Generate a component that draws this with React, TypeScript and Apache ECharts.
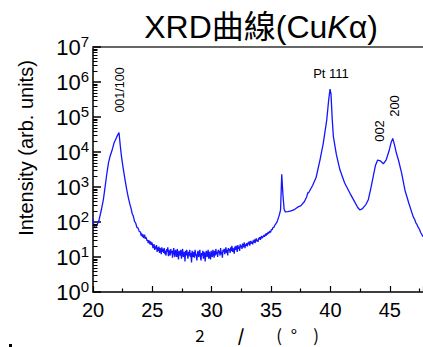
import React, { useEffect, useRef } from "react";
import * as echarts from "echarts";

// 001/100 peak region, sampled where the curve bends
const leftTheta: number[] = [
  20.0, 20.05, 20.1, 20.17, 20.25, 20.35, 20.5, 20.7, 20.87, 21.0, 21.15, 21.3, 21.43, 21.6, 21.77, 22.0, 22.19,
  22.3, 22.4, 22.55, 22.7, 22.85, 22.98, 23.1, 23.2, 23.3, 23.4, 23.5, 23.6, 23.7, 23.8, 23.9,
];
const leftIntensity: number[] = [
  120, 90, 75, 68, 72, 85, 110, 220, 430, 900, 2200, 4800, 7400, 11000, 18000, 27000, 36000,
  15000, 7400, 3300, 1600, 820, 490, 330, 250, 175, 145, 104, 92, 70, 67, 53,
];

// noisy amorphous background, scan step 0.05°
const noiseStart = 24.0;
const noiseStep = 0.05;
const noiseIntensity: number[] = [
  52, 41, 47, 38, 44, 35, 40, 43, 33, 37,
  34, 29, 31, 25, 30, 27, 23, 28, 22, 26,
  24, 18, 21, 23, 16, 20, 17, 22, 14, 19,
  15, 20, 13, 18, 16, 12, 19, 14, 17, 13,
  18, 12, 15, 11, 17, 14, 19, 10.5, 16, 13,
  11, 17, 13, 15, 9.5, 14, 18, 12, 10, 16,
  14, 10, 17, 12, 8.5, 15, 13, 11, 16, 9,
  13, 17, 10, 12, 14, 7.5, 15, 11, 16, 12,
  9, 14, 11, 16, 10, 13, 7, 15, 12, 10,
  14, 9.5, 16, 11, 12, 8, 13, 15, 10, 12,
  16, 10, 8, 13, 11, 15, 9, 14, 12, 7.5,
  13, 15, 10, 12, 16, 9, 14, 11, 8.5, 15,
  12, 10, 16, 13, 9.5, 15, 11, 17, 12, 14,
  10, 16, 13, 15, 11, 18, 12, 14, 9.5, 16,
  14, 17, 12, 15, 19, 13, 16, 11, 18, 15,
  17, 13, 19, 15, 21, 14, 18, 16, 12.5, 20,
  16, 21, 18, 14, 22, 17, 20, 15, 23, 19,
  21, 17, 24, 19, 22, 26, 18, 23, 21, 25,
  20, 26, 23, 28, 21, 25, 29, 24, 27, 23,
  30, 26, 32, 25, 29, 34, 28, 31, 27, 35,
  32, 37, 31, 36, 40, 34, 39, 37, 43, 38,
  42, 46, 41, 48, 44, 52, 47, 51, 55, 50,
  57, 62, 60, 68, 72, 70, 79, 84, 88, 95,
];

// 36° spike, Pt 111, 002 and 200 region
const rightTheta: number[] = [
  35.5, 35.6, 35.7, 35.8, 35.9, 36.0, 36.1, 36.2, 36.4, 36.6, 36.8, 37.0, 37.27, 37.5, 37.8, 38.0, 38.1, 38.14, 38.2, 38.5, 38.8,
  39.12, 39.4, 39.69, 39.85, 39.97, 40.05, 40.15, 40.25, 40.5, 40.8, 41.2, 41.65, 42.0, 42.3, 42.49,
  42.7, 43.0, 43.19, 43.4, 43.6, 43.8, 43.98, 44.2, 44.46, 44.7, 44.95, 45.1, 45.25, 45.4, 45.55,
  45.73, 46.0, 46.28, 46.6, 46.98, 47.1, 47.2, 47.3, 47.4, 47.5, 47.6, 47.7, 47.8,
];
const rightIntensity: number[] = [
  100, 125, 160, 220, 2300, 600, 230, 195, 198, 205, 215, 230, 270, 290, 380, 520, 700, 660, 720, 1100, 1900,
  5900, 18000, 81000, 300000, 630000, 450000, 90000, 27500, 8500, 3100, 1300, 660, 400, 260, 220,
  240, 320, 430, 900, 1950, 4200, 5900, 5600, 4600, 6000, 11000, 18000, 24500, 16000, 9500,
  5900, 2500, 810, 350, 140, 118, 95, 84, 70, 62, 50, 44, 38,
];

const peakLabels: string[] = ["001/100", "Pt 111", "002", "200"];
const xTicks = { min: 20, max: 47.8, interval: 5 };
const yDecades: number[] = [1, 10, 100, 1000, 10000, 100000, 1000000, 10000000];
const minorMultipliers: number[] = [2, 3, 4, 5, 6, 7, 8, 9];

export default function App() {
  const ref = useRef<HTMLDivElement>(null);
  useEffect(() => {
    if (!ref.current) return;
    const chart = echarts.init(ref.current, null, { renderer: "svg" });
    const data: number[][] = [];
    leftTheta.forEach((t, i) => data.push([t, leftIntensity[i]]));
    noiseIntensity.forEach((v, i) => data.push([+(noiseStart + i * noiseStep).toFixed(2), v]));
    rightTheta.forEach((t, i) => data.push([t, rightIntensity[i]]));

    const font = "'Liberation Sans', Arial, 'Noto Sans CJK TC', sans-serif";
    const cjk = "'Noto Sans CJK JP', sans-serif";
    const nameStyle = (t: string, x: number, extra: any = {}) => ({
      type: "text",
      x,
      y: 334,
      style: { text: t, fontSize: 17, fontFamily: cjk, fill: "#000", align: "center", verticalAlign: "middle", ...extra },
    });
    chart.setOption({
      animation: false,
      backgroundColor: "#fff",
      grid: { left: 93, top: 47, right: 0, bottom: 55, containLabel: false },
      xAxis: [
        {
          type: "value",
          min: xTicks.min,
          max: xTicks.max,
          interval: xTicks.interval,
          axisLine: { show: true, lineStyle: { color: "#000", width: 1.5 } },
          axisTick: { show: true, inside: true, length: 6, lineStyle: { color: "#000", width: 1.2 } },
          minorTick: { show: true, splitNumber: 2, length: 3.5, lineStyle: { color: "#000", width: 1.2 } },
          axisLabel: { fontSize: 20, color: "#000", fontFamily: font, margin: 8, showMaxLabel: false },
          splitLine: { show: false },
        },
        {
          type: "value",
          position: "top",
          min: xTicks.min,
          max: xTicks.max,
          axisLine: { show: true, onZero: false, lineStyle: { color: "#666", width: 2 } },
          axisTick: { show: false },
          axisLabel: { show: false },
          splitLine: { show: false },
        },
      ],
      yAxis: {
        type: "log",
        logBase: 10,
        min: yDecades[0],
        max: yDecades[yDecades.length - 1],
        splitNumber: 7,
        axisLine: { show: true, lineStyle: { color: "#000", width: 1.5 } },
        axisTick: { show: true, inside: true, length: 8, lineStyle: { color: "#000", width: 1.5 } },
        splitLine: { show: false },
        axisLabel: {
          margin: 4,
          formatter: (v: number) => "{b|10}{s|" + Math.round(Math.log10(v)) + "}",
          rich: {
            b: { fontSize: 22, color: "#000", fontFamily: font, lineHeight: 22 },
            s: { fontSize: 15, color: "#000", fontFamily: font, lineHeight: 22, padding: [0, 0, 11, 0] },
          },
        },
      },
      series: [
        {
          type: "line",
          data,
          showSymbol: false,
          symbol: "none",
          lineStyle: { color: "#1414ff", width: 1.3 },
          silent: true,
          z: 3,
        },
      ],
    });

    const minorLines: any[] = [];
    yDecades.slice(0, -1).forEach((d) =>
      minorMultipliers.forEach((m) => {
        const p = chart.convertToPixel({ xAxisIndex: 0, yAxisIndex: 0 }, [xTicks.min, d * m]) as number[];
        const y = Math.round(p[1]) + 0.5;
        minorLines.push({
          type: "line",
          shape: { x1: p[0], y1: y, x2: p[0] + 4.5, y2: y },
          style: { stroke: "#000", lineWidth: 1 },
          z: 10,
        });
      })
    );

    chart.setOption({
      graphic: [
        ...minorLines,
        {
          type: "text",
          x: 261,
          y: 27,
          style: {
            text: "{n|XRD曲線(Cu}{i|K}{n|α)}",
            align: "center",
            verticalAlign: "middle",
            rich: {
              n: { fontSize: 32, fontFamily: font, fill: "#000" },
              i: { fontSize: 32, fontFamily: font, fontStyle: "italic", fill: "#000" },
            },
          },
        },
        {
          type: "text",
          x: 26,
          y: 148,
          rotation: Math.PI / 2,
          style: { text: "Intensity (arb. units)", fontSize: 20, fontFamily: font, fill: "#000", align: "center", verticalAlign: "middle" },
        },
        {
          type: "text",
          x: 120,
          y: 90,
          rotation: Math.PI / 2,
          style: { text: peakLabels[0], fontSize: 12.5, fontFamily: font, fill: "#000", align: "center", verticalAlign: "middle" },
        },
        {
          type: "text",
          x: 331,
          y: 73,
          style: { text: peakLabels[1], fontSize: 13, fontFamily: font, fill: "#000", align: "center", verticalAlign: "middle" },
        },
        {
          type: "text",
          x: 379,
          y: 131,
          rotation: Math.PI / 2,
          style: { text: peakLabels[2], fontSize: 13, fontFamily: font, fill: "#000", align: "center", verticalAlign: "middle" },
        },
        {
          type: "text",
          x: 394,
          y: 106,
          rotation: Math.PI / 2,
          style: { text: peakLabels[3], fontSize: 13, fontFamily: font, fill: "#000", align: "center", verticalAlign: "middle" },
        },
        nameStyle("2", 200),
        nameStyle("/", 241, { fontWeight: "bold" }),
        nameStyle("(", 279),
        nameStyle("°", 294),
        nameStyle(")", 316),
        { type: "rect", shape: { x: 9, y: 344, width: 3, height: 3 }, style: { fill: "#000" } },
      ],
    });
    return () => chart.dispose();
  }, []);
  return <div ref={ref} style={{ position: "fixed", left: 0, top: 0, width: 423, height: 347 }} />;
}
